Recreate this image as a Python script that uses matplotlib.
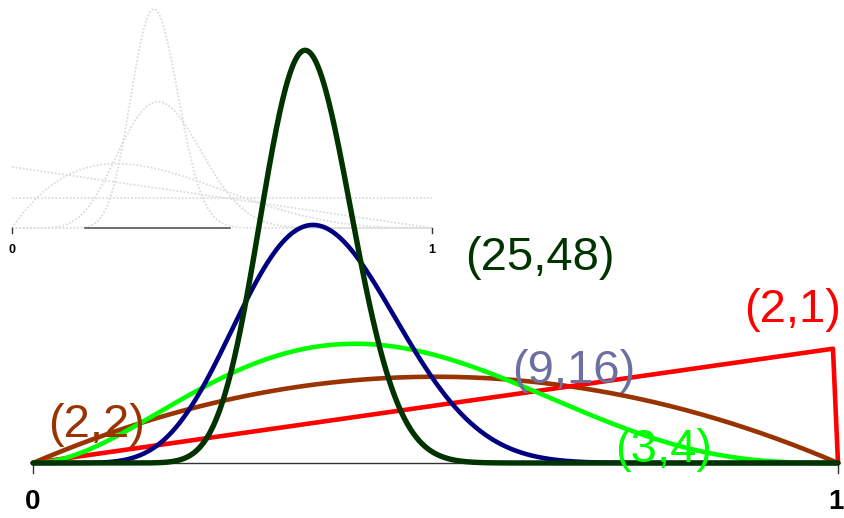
import math
import numpy as np
import matplotlib
matplotlib.use("Agg")
import matplotlib.pyplot as plt

plt.rcParams["font.family"] = ["Liberation Sans", "DejaVu Sans"]

# beta parameters (a, b) of the main curves, in drawing order
main_a = [2, 2, 3, 9, 25]
main_b = [2, 1, 4, 16, 48]
main_labels = ["(2,2)", "(2,1)", "(3,4)", "(9,16)", "(25,48)"]
line_colors = ["#993300", "#FF0000", "#00FF00", "#000080", "#003300"]
label_colors = ["#993300", "#FF0000", "#00FF00", "#6D6FA3", "#003300"]

# faded curves of the small ghost plot in the top left
ghost_a = [1, 1, 2, 9, 25]
ghost_b = [1, 2, 4, 16, 48]

axis_labels = ["0", "1"]


def beta_pdf(x, a, b):
    logc = math.lgamma(a + b) - math.lgamma(a) - math.lgamma(b)
    with np.errstate(divide="ignore"):
        return np.exp(logc + (a - 1) * np.log(x) + (b - 1) * np.log1p(-x))


x = np.linspace(0, 1, 801)
x_in = np.clip(x, 1e-12, 1 - 1e-12)

fig = plt.figure(figsize=(8.44, 5.18), dpi=100)

# ghost inset
axg = fig.add_axes([12 / 844, 290 / 518, 420 / 844, 228 / 518])
axg.set_xlim(0, 1)
axg.set_ylim(0, 228 / 30.5)
axg.axis("off")
for a, b in zip(ghost_a, ghost_b):
    y = beta_pdf(x_in, a, b)
    if a == 1 and b == 1:
        y = np.ones_like(x)
    axg.plot(x, y, color="#DCDCDC", lw=1.3, ls=(0, (1, 1)), clip_on=False)
axg.plot([0.175, 0.52], [0, 0], color="#555555", lw=1.2, clip_on=False)
for xv, t in zip([0, 1], axis_labels):
    axg.plot([xv, xv], [0, -0.17], color="#333333", lw=1, clip_on=False)
    axg.text(xv, -0.72, t, ha="center", va="center", fontsize=9,
             fontweight="bold", color="black")

# main plot
ax = fig.add_axes([33 / 844, 0, 805 / 844, 1])
ax.set_zorder(2)
ax.set_xlim(0, 1)
ax.set_ylim(-55 / 57.5, 463 / 57.5)
ax.axis("off")

ax.plot([0, 1], [0, 0], color="#333333", lw=1, zorder=1)
for xv, t in zip([0, 1], axis_labels):
    ax.plot([xv, xv], [0, -0.17], color="#333333", lw=1, clip_on=False)
    ax.text(xv - 0.002 * xv, -0.68, t, ha="center", va="center", fontsize=20,
            fontweight="bold", color="black")

for a, b, c in zip(main_a, main_b, line_colors):
    y = beta_pdf(x_in, a, b)
    xs, ys = x, y
    if b == 1:
        keep = x <= 0.994
        xs = np.append(x[keep], 1.0)
        ys = np.append(y[keep], 0.0)
    lw = 3.9 if a == 25 else 3.3
    ax.plot(xs, ys, color=c, lw=lw, solid_capstyle="round",
            solid_joinstyle="round", clip_on=False, zorder=3)

label_xy = {"(2,2)": (0.0795, 0.452), "(2,1)": (0.944, 2.452),
            "(3,4)": (0.783, 0.017), "(9,16)": (0.672, 1.391),
            "(25,48)": (0.630, 3.357)}
for t, c in zip(main_labels, label_colors):
    tx, ty = label_xy[t]
    ax.text(tx, ty, t, ha="center", va="baseline", fontsize=34, color=c,
            zorder=4)

fig.savefig("out.png", dpi=100)
